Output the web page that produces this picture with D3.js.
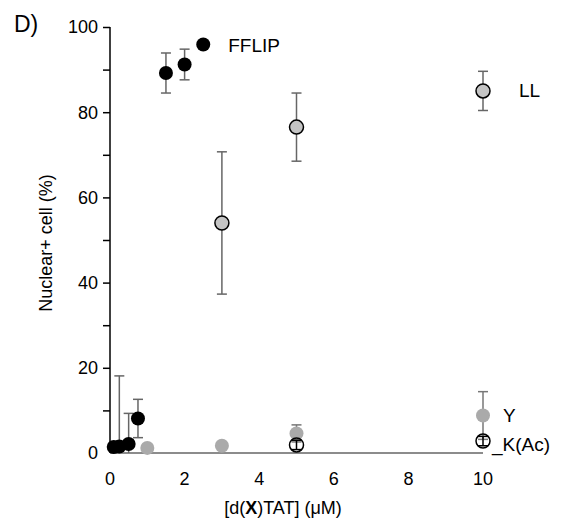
<!DOCTYPE html>
<html>
<head>
<meta charset="utf-8">
<script src="https://cdn.jsdelivr.net/npm/d3@7"></script>
<style>
  body { margin: 0; background: #fff; }
  text { font-family: Arial, "Liberation Sans", sans-serif; fill: #000; }
</style>
</head>
<body>
<div id="chart"></div>
<script>
// data: concentration (uM), nuclear+ cells (%), error
var ffX = [0.1, 0.25, 0.5, 0.75, 1.5, 2, 2.5];
var ffY = [1.4, 1.5, 2.1, 8.1, 89.2, 91.2, 95.9];
var ffErr = [0, 16.6, 7.2, 4.5, 4.7, 3.6, 0];

var llX = [3, 5, 10];
var llY = [54, 76.5, 85];
var llErr = [16.7, 8, 4.6];

var yX = [1, 3, 5, 10];
var yY = [1.2, 1.7, 4.6, 8.8];
var yErr = [0, 0, 2, 5.6];

var kX = [5, 10];
var kY = [1.9, 2.8];
var kErr = [1.1, 1.1];

var xTicks = [0, 2, 4, 6, 8, 10];
var yTicks = [0, 20, 40, 60, 80, 100];

var svgWidth = 571;
var svgHeight = 521;

var margin = { top: 27, right: 88, bottom: 68, left: 110 };
var width = svgWidth - margin.left - margin.right;
var height = svgHeight - margin.top - margin.bottom;

var svg = d3.select("#chart").append("svg")
  .attr("width", svgWidth)
  .attr("height", svgHeight);

var g = svg.append("g")
  .attr("transform", `translate(${margin.left}, ${margin.top})`);

var x = d3.scaleLinear().domain([0, 10]).range([0, width]);
var y = d3.scaleLinear().domain([0, 100]).range([height, 0]);

// x axis: grey line, labels only
g.append("line")
  .attr("x1", x(0)).attr("x2", x(10))
  .attr("y1", y(0)).attr("y2", y(0))
  .attr("stroke", "#666").attr("stroke-width", 1.3);

g.selectAll(".xt").data(xTicks).enter().append("text")
  .attr("x", d => x(d))
  .attr("y", height + 32)
  .attr("text-anchor", "middle")
  .style("font-size", "18px")
  .text(d => d);

// y axis
var yAxis = d3.axisLeft(y)
  .tickValues(d3.range(10, 101, 10))
  .tickSize(7)
  .tickFormat("");
var ya = g.append("g").call(yAxis);
ya.select(".domain").attr("d", `M0,${y(100)}V${y(0)}`).attr("stroke-width", 1.5);
ya.selectAll(".tick line").attr("stroke-width", 1.5);

g.selectAll(".yt").data(yTicks).enter().append("text")
  .attr("x", -12)
  .attr("y", d => y(d))
  .attr("dy", "0.36em")
  .attr("text-anchor", "end")
  .style("font-size", "18px")
  .text(d => d);

// axis titles
var xt = svg.append("text")
  .attr("x", 283)
  .attr("y", 514)
  .attr("text-anchor", "middle")
  .style("font-size", "18px");
xt.append("tspan").text("[d(");
xt.append("tspan").style("font-weight", "bold").text("X");
xt.append("tspan").text(")TAT] (\u03bcM)");

svg.append("text")
  .attr("transform", "translate(52, 243) rotate(-90)")
  .attr("text-anchor", "middle")
  .style("font-size", "18px")
  .text("Nuclear+ cell (%)");

svg.append("text")
  .attr("x", 14).attr("y", 32)
  .style("font-size", "23px")
  .text("D)");

function errorBars(xs, ys, es, color, cls) {
  var pts = xs.map((v, i) => ({ x: v, y: ys[i], e: es[i] })).filter(d => d.e > 0);
  var eb = g.append("g").attr("class", cls)
    .attr("stroke", color).attr("stroke-width", 1.5);
  eb.selectAll("line.v").data(pts).enter().append("line")
    .attr("x1", d => x(d.x)).attr("x2", d => x(d.x))
    .attr("y1", d => y(d.y + d.e)).attr("y2", d => y(Math.max(0, d.y - d.e)));
  eb.selectAll("line.t").data(pts).enter().append("line")
    .attr("x1", d => x(d.x) - 5).attr("x2", d => x(d.x) + 5)
    .attr("y1", d => y(d.y + d.e)).attr("y2", d => y(d.y + d.e));
  eb.selectAll("line.b").data(pts.filter(d => d.y - d.e > 0)).enter().append("line")
    .attr("x1", d => x(d.x) - 5).attr("x2", d => x(d.x) + 5)
    .attr("y1", d => y(d.y - d.e)).attr("y2", d => y(d.y - d.e));
}

function points(xs, ys, fill, stroke) {
  g.append("g").selectAll("circle")
    .data(xs.map((v, i) => ({ x: v, y: ys[i] })))
    .enter().append("circle")
    .attr("cx", d => x(d.x))
    .attr("cy", d => y(d.y))
    .attr("r", 7)
    .attr("fill", fill)
    .attr("stroke", stroke)
    .attr("stroke-width", stroke === "none" ? 0 : 1.5);
}

errorBars(ffX, ffY, ffErr, "#666", "eff");
errorBars(llX, llY, llErr, "#666", "ell");
errorBars(yX, yY, yErr, "#777", "ey");

points(yX, yY, "#aaaaaa", "none");
points(kX, kY, "none", "#000");
errorBars(kX, kY, kErr, "#000", "ek");
points(llX, llY, "#c4c4c4", "#000");
points(ffX, ffY, "#000", "none");

// series labels
g.append("text").attr("x", x(2.5) + 25).attr("y", y(96) + 8)
  .style("font-size", "19px").text("FFLIP");
g.append("text").attr("x", x(10) + 36).attr("y", y(85) + 6)
  .style("font-size", "19px").text("LL");
g.append("text").attr("x", x(10) + 20).attr("y", y(8.8) + 6)
  .style("font-size", "19px").text("Y");
g.append("text").attr("x", x(10) + 9).attr("y", y(0) - 2)
  .style("font-size", "19px").text("_K(Ac)");
</script>
</body>
</html>
